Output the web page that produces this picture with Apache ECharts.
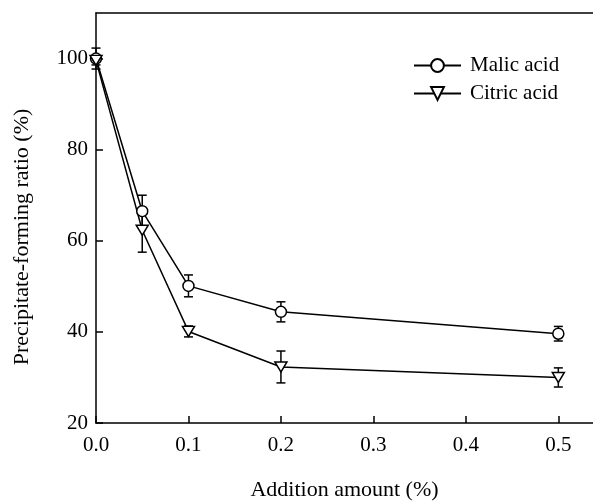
<!DOCTYPE html>
<html>
<head>
<meta charset="utf-8">
<script src="https://cdn.jsdelivr.net/npm/echarts@6/dist/echarts.min.js"></script>
<style>
html, body { margin: 0; padding: 0; background: #fff; }
#chart { width: 593px; height: 502px; }
</style>
</head>
<body>
<div id="chart"></div>
<script>
var addition = [0, 0.05, 0.1, 0.2, 0.5];
var malic = [100, 66.5, 50.1, 44.4, 39.6];
var malicErr = [2.3, 3.5, 2.4, 2.2, 1.6];
var citric = [99.6, 62.3, 40.1, 32.3, 30.0];
var citricErr = [1.0, 4.8, 1.2, 3.5, 2.1];
var xTicks = [0, 0.1, 0.2, 0.3, 0.4, 0.5];
var yTicks = [20, 40, 60, 80, 100];

var font = 'Liberation Serif';

function pairs(xs, ys) {
    return xs.map(function (x, i) { return [x, ys[i]]; });
}
function errData(xs, ys, es) {
    return xs.map(function (x, i) { return [x, ys[i] - es[i], ys[i] + es[i]]; });
}
function errorBars(params, api) {
    var lo = api.coord([api.value(0), api.value(1)]);
    var hi = api.coord([api.value(0), api.value(2)]);
    var w = 4.5;
    var st = { stroke: '#000', lineWidth: 1.5 };
    return {
        type: 'group',
        children: [
            { type: 'line', shape: { x1: lo[0], y1: lo[1], x2: hi[0], y2: hi[1] }, style: st },
            { type: 'line', shape: { x1: lo[0] - w, y1: lo[1], x2: lo[0] + w, y2: lo[1] }, style: st },
            { type: 'line', shape: { x1: hi[0] - w, y1: hi[1], x2: hi[0] + w, y2: hi[1] }, style: st }
        ]
    };
}

var chart = echarts.init(document.getElementById('chart'));
chart.setOption({
    animation: false,
    backgroundColor: '#fff',
    grid: { left: 96, top: 13, right: 0, bottom: 79, containLabel: false, outerBoundsMode: 'none' },
    legend: {
        orient: 'vertical',
        left: 408,
        top: 50,
        itemWidth: 47,
        itemHeight: 16,
        itemGap: 7,
        textStyle: { fontFamily: font, fontSize: 21, color: '#000', lineHeight: 21, padding: [0, 0, 0, 4] },
        data: ['Malic acid', 'Citric acid']
    },
    xAxis: [{
        type: 'value',
        min: 0,
        max: 0.5375,
        name: 'Addition amount (%)',
        nameLocation: 'middle',
        nameGap: 56,
        nameTextStyle: { fontFamily: font, fontSize: 22, color: '#000' },
        axisLine: { lineStyle: { color: '#000', width: 1.5 } },
        axisTick: { inside: true, length: 7, customValues: xTicks, lineStyle: { color: '#000', width: 1.5 } },
        axisLabel: {
            customValues: xTicks,
            fontFamily: font, fontSize: 21, color: '#000', margin: 12,
            formatter: function (v) { return v.toFixed(1); }
        },
        splitLine: { show: false }
    }, {
        type: 'value',
        position: 'top',
        min: 0,
        max: 0.5375,
        axisLine: { show: true, lineStyle: { color: '#000', width: 1.5 } },
        axisTick: { show: false },
        axisLabel: { show: false },
        splitLine: { show: false }
    }],
    yAxis: {
        type: 'value',
        min: 20,
        max: 110,
        name: 'Precipitate-forming ratio (%)',
        nameLocation: 'middle',
        nameGap: 63,
        nameTextStyle: { fontFamily: font, fontSize: 22, color: '#000', padding: [0, 38, 0, 0] },
        axisLine: { show: true, lineStyle: { color: '#000', width: 1.5 } },
        axisTick: { inside: true, length: 7, customValues: yTicks, lineStyle: { color: '#000', width: 1.5 } },
        axisLabel: { customValues: yTicks, fontFamily: font, fontSize: 21, color: '#000', margin: 8 },
        splitLine: { show: false }
    },
    series: [
        {
            type: 'custom',
            renderItem: errorBars,
            data: errData(addition, malic, malicErr),
            encode: { x: 0, y: [1, 2] },
            z: 1,
            silent: true
        },
        {
            type: 'custom',
            renderItem: errorBars,
            data: errData(addition, citric, citricErr),
            encode: { x: 0, y: [1, 2] },
            z: 1,
            silent: true
        },
        {
            name: 'Malic acid',
            type: 'line',
            data: pairs(addition, malic),
            symbol: 'circle',
            symbolSize: 11,
            lineStyle: { color: '#000', width: 1.5 },
            itemStyle: { color: '#fff', borderColor: '#000', borderWidth: 1.5 },
            z: 3
        },
        {
            name: 'Citric acid',
            type: 'line',
            data: pairs(addition, citric),
            symbol: 'triangle',
            symbolRotate: 180,
            symbolSize: [12, 10],
            lineStyle: { color: '#000', width: 1.5 },
            itemStyle: { color: '#fff', borderColor: '#000', borderWidth: 1.5 },
            z: 3
        }
    ]
});
</script>
</body>
</html>
